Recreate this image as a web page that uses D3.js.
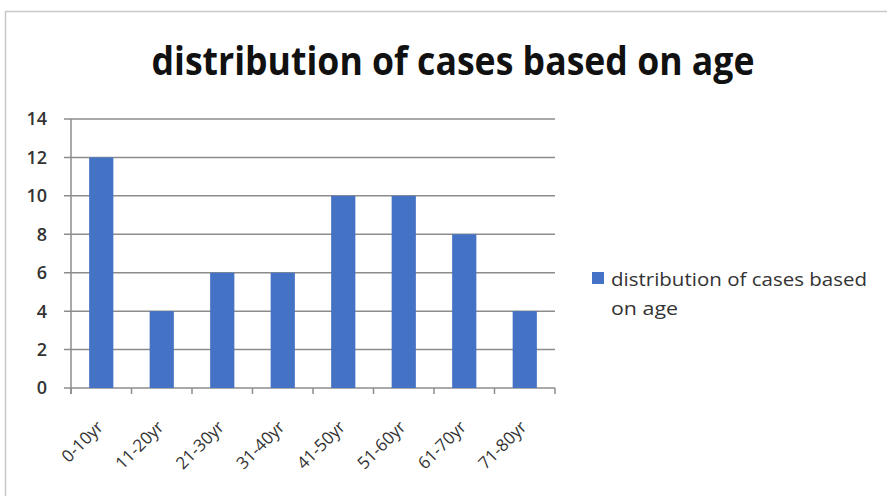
<!DOCTYPE html>
<html>
<head>
<meta charset="utf-8">
<script src="https://cdn.jsdelivr.net/npm/d3@7"></script>
<style>
  body { margin: 0; background: #fff; }
  svg { display: block; font-family: "Open Sans", Lato, sans-serif; }
</style>
</head>
<body>
<div id="container"></div>
<script>
// Data
const categories = ["0-10yr", "11-20yr", "21-30yr", "31-40yr", "41-50yr", "51-60yr", "61-70yr", "71-80yr"];
const cases = [12, 4, 6, 6, 10, 10, 8, 4];
const yTicks = [0, 2, 4, 6, 8, 10, 12, 14];
const seriesName = "distribution of cases based on age";

const width = 887, height = 496;
const margin = {top: 119, left: 71, right: 332, bottom: 108};

const svg = d3.select("#container").append("svg")
	.attr("width", width)
	.attr("height", height);

// chart frame (cut at the right/bottom in the original)
svg.append("rect")
	.attr("x", 5.5).attr("y", 11.5)
	.attr("width", width + 10).attr("height", height + 10)
	.attr("fill", "none").attr("stroke", "#c8c8c8").attr("stroke-width", 1.5);

// title, squeezed to the width of the original Calibri title
svg.append("text")
	.attr("x", 453).attr("y", 75)
	.attr("text-anchor", "middle")
	.attr("font-weight", "bold")
	.attr("font-size", 40)
	.attr("textLength", 603)
	.attr("lengthAdjust", "spacingAndGlyphs")
	.attr("fill", "#111")
	.text(seriesName);

const x = d3.scaleBand()
	.domain(categories)
	.range([margin.left, width - margin.right])
	.paddingInner(0.6)
	.paddingOuter(0.3);

const y = d3.scaleLinear()
	.domain([0, 14])
	.range([height - margin.bottom, margin.top]);

// gridlines
svg.append("g")
	.selectAll("line")
	.data(yTicks)
	.join("line")
	.attr("x1", margin.left - 7)
	.attr("x2", width - margin.right)
	.attr("y1", d => y(d)).attr("y2", d => y(d))
	.attr("stroke", "#8c8c8c").attr("stroke-width", 1.5);

// y labels
svg.append("g")
	.selectAll("text")
	.data(yTicks)
	.join("text")
	.attr("x", 47)
	.attr("y", d => y(d))
	.attr("dy", "0.36em")
	.attr("text-anchor", "end")
	.attr("font-size", 18)
	.attr("font-weight", 600)
	.attr("fill", "#333")
	.text(d => d);

// y axis line
svg.append("line")
	.attr("x1", margin.left).attr("x2", margin.left)
	.attr("y1", y(14)).attr("y2", y(0) + 6)
	.attr("stroke", "#8c8c8c").attr("stroke-width", 1.5);

// category tick marks on the x axis
const step = x.step();
const bounds = d3.range(categories.length + 1).map(i => margin.left + i * step);
svg.append("g")
	.selectAll("line")
	.data(bounds)
	.join("line")
	.attr("x1", d => d).attr("x2", d => d)
	.attr("y1", y(0)).attr("y2", y(0) + 6)
	.attr("stroke", "#8c8c8c").attr("stroke-width", 1.5);

// bars
svg.append("g")
	.selectAll("rect")
	.data(cases)
	.join("rect")
	.attr("x", (d, i) => x(categories[i]))
	.attr("y", d => y(d))
	.attr("width", x.bandwidth())
	.attr("height", d => y(0) - y(d))
	.attr("fill", "#4472c4");

// rotated category labels
svg.append("g")
	.selectAll("text")
	.data(categories)
	.join("text")
	.attr("transform", d => `translate(${x(d) + x.bandwidth() / 2 + 3},${y(0) + 40}) rotate(-45)`)
	.attr("text-anchor", "end")
	.attr("font-size", 17)
	.attr("fill", "#333")
	.text(d => d);

// legend
const legend = svg.append("g");
legend.append("rect")
	.attr("x", 592).attr("y", 272)
	.attr("width", 12).attr("height", 12)
	.attr("fill", "#4472c4");
const lt = legend.append("text")
	.attr("font-size", 19)
	.attr("fill", "#333");
lt.append("tspan").attr("x", 611).attr("y", 286)
	.attr("textLength", 256).attr("lengthAdjust", "spacingAndGlyphs")
	.text("distribution of cases based");
lt.append("tspan").attr("x", 611).attr("y", 315)
	.attr("textLength", 67).attr("lengthAdjust", "spacingAndGlyphs")
	.text("on age");
</script>
</body>
</html>
